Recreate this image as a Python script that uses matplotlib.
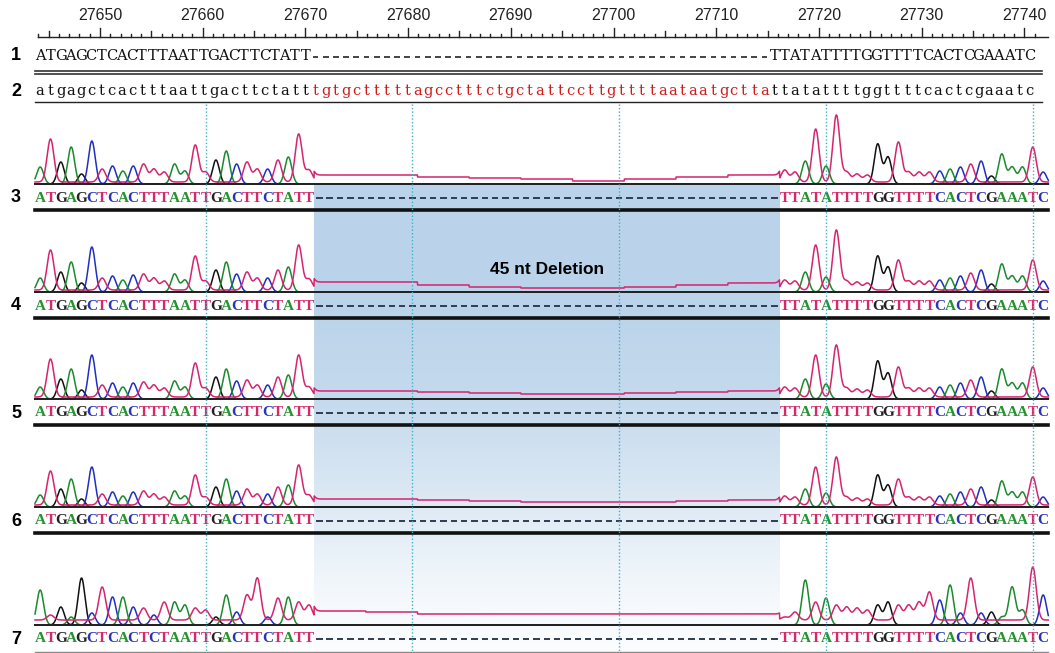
import numpy as np
import matplotlib.pyplot as plt

# ruler (genome coordinates)
ruler_first = 27644
ruler_last = 27741
ruler_labels = [27650, 27660, 27670, 27680, 27690, 27700, 27710, 27720, 27730, 27740]

# reference sequence, rows 1 and 2
ref_left = "ATGAGCTCACTTTAATTGACTTCTATT"
ref_gap = "tgtgctttttagcctttctgctattccttgttttaataatgctta"
ref_right = "TTATATTTTGGTTTTCACTCGAAATC"

# sequenced samples, rows 3-7
row_names = ["3", "4", "5", "6", "7"]
row_left = [ref_left, ref_left, ref_left, ref_left, "ATGAGCTCACTCTAATTGACTTCTATT"]
row_right = [ref_right] * 5

# peak height (px) of the called base at every position
peaks_left = [
    [17, 43, 22, 37, 10, 43, 13, 18, 13, 18, 18, 13, 10, 20, 13, 37, 10, 24, 33, 20, 20, 13, 15, 22, 27, 48, 12],
    [14, 40, 20, 30, 9, 45, 12, 16, 12, 17, 16, 12, 9, 18, 12, 34, 9, 22, 30, 18, 18, 12, 14, 20, 25, 45, 11],
    [12, 38, 20, 30, 9, 44, 12, 16, 12, 16, 15, 12, 9, 18, 12, 34, 9, 22, 30, 18, 17, 12, 14, 20, 24, 42, 10],
    [12, 34, 18, 28, 8, 40, 11, 15, 11, 15, 14, 11, 8, 16, 11, 30, 8, 20, 28, 16, 16, 11, 13, 18, 22, 40, 10],
    [35, 5, 18, 8, 47, 12, 33, 28, 28, 18, 12, 10, 18, 23, 20, 12, 10, 8, 30, 13, 25, 42, 8, 22, 28, 18, 15],
]
peaks_right = [
    [12, 10, 23, 53, 18, 67, 10, 8, 7, 40, 27, 40, 10, 10, 10, 13, 15, 17, 18, 23, 8, 30, 17, 17, 35, 12],
    [10, 9, 20, 45, 15, 60, 9, 8, 7, 36, 25, 30, 9, 9, 9, 12, 14, 16, 17, 22, 8, 28, 16, 16, 30, 11],
    [10, 9, 20, 42, 15, 52, 9, 8, 7, 38, 26, 30, 9, 9, 9, 12, 14, 16, 17, 22, 8, 30, 16, 16, 30, 11],
    [9, 8, 18, 38, 14, 48, 8, 7, 6, 32, 22, 26, 8, 8, 8, 11, 13, 15, 16, 20, 7, 26, 15, 15, 28, 10],
    [3, 8, 45, 18, 27, 15, 13, 12, 10, 20, 23, 15, 15, 18, 28, 25, 40, 12, 42, 12, 13, 8, 38, 15, 53, 30],
]
# height (px) of the flat T trace across the deletion, 9 steps of 5 bases
gap_level = [
    [9, 9, 7, 6, 5, 3, 5, 7, 9],
    [10, 10, 7, 5, 4, 4, 5, 7, 9],
    [8, 8, 7, 6, 5, 5, 6, 7, 8],
    [8, 8, 7, 6, 5, 5, 5, 6, 7],
    [14, 13, 11, 11, 11, 11, 11, 11, 11],
]
t_floor = [2, 2, 2, 2, 5]

trace_colors = {"A": "#1b8a2e", "C": "#1f2fbf", "G": "#111111", "T": "#d6246e"}
base_colors = {"A": "#25932f", "C": "#2a35b5", "G": "#222222", "T": "#d42a6a"}

W, H = 1055, 653
X0 = 35.0
PITCH = 10.34        # chromatogram rows
TXT_PITCH = 10.2     # rows 1 and 2
RULER_PITCH = 10.27
row_y = [198, 306, 413, 521, 639]

fig = plt.figure(figsize=(W / 100, H / 100), dpi=100)
ax = fig.add_axes([0, 0, 1, 1])
ax.set_xlim(0, W)
ax.set_ylim(H, 0)
ax.axis("off")

n_left, n_gap, n_right = len(ref_left), len(ref_gap), len(ref_right)
n_all = n_left + n_gap + n_right
gap_x0 = X0 + n_left * PITCH
gap_x1 = X0 + (n_left + n_gap) * PITCH
x_end = X0 + n_all * PITCH

# shaded deletion box, fading downwards
grad_y = [183, 300, 400, 500, 600, 653]
grad_a = [1.0, 1.0, 0.85, 0.5, 0.15, 0.05]
yy = np.arange(183, 654)
alpha = np.interp(yy, grad_y, grad_a)
img = np.zeros((len(yy), 1, 4))
img[:, 0, :3] = [0.73, 0.83, 0.92]
img[:, 0, 3] = alpha
ax.imshow(img, extent=(gap_x0, gap_x1, 653, 183), aspect="auto", zorder=0, interpolation="bilinear")
ax.text((gap_x0 + gap_x1) / 2, 270, "45 nt Deletion", ha="center", va="center",
        fontsize=12.5, fontweight="bold", family="Liberation Sans", zorder=6)

# ruler
ruler_y = 37
ax.plot([38, 1048], [ruler_y, ruler_y], color="#222222", lw=1.0)
for p in range(ruler_first, ruler_last + 1):
    x = 100 + (p - 27650) * RULER_PITCH
    h = 9 if p % 10 == 0 else (6 if p % 5 == 0 else 3)
    ax.plot([x, x], [ruler_y, ruler_y - h], color="#222222", lw=1.0)
for p in ruler_labels:
    x = 100 + (p - 27650) * RULER_PITCH
    ax.text(x, 16, str(p), ha="center", va="center", fontsize=11.5, family="Liberation Sans", color="#222222")

# row 1: reference with gap
row1 = ref_left + "-" * n_gap + ref_right
for i, ch in enumerate(row1):
    x = X0 + (i + 0.5) * TXT_PITCH
    if ch == "-":
        ax.plot([x - 2.8, x + 2.8], [57, 57], color="#111111", lw=1.1, solid_capstyle="butt")
    else:
        ax.text(x, 56, ch, ha="center", va="center", fontsize=10.5,
                family="DejaVu Serif", color="#111111")
ax.plot([35, 1042], [70.5, 70.5], color="#333333", lw=1.2)
ax.plot([35, 1042], [74, 74], color="#333333", lw=1.2)

# row 2: full reference, deleted part in red
row2 = ref_left.lower() + ref_gap + ref_right.lower()
for i, ch in enumerate(row2):
    col = "#d11a1a" if n_left <= i < n_left + n_gap else "#111111"
    ax.text(X0 + (i + 0.5) * TXT_PITCH, 91, ch, ha="center", va="center", fontsize=10.5,
            family="DejaVu Serif", color=col)
ax.plot([35, 1042], [102, 102], color="#222222", lw=1.0)

for y, name in zip([56, 92], ["1", "2"]):
    ax.text(16, y, name, ha="center", va="center", fontsize=13, fontweight="bold", family="Liberation Sans")

# guide lines every 20 bases
for i in range(16, n_all, 20):
    x = X0 + (i + 0.5) * PITCH
    ax.plot([x, x], [104, H], color="#3fb1c9", lw=1.0, ls=(0, (1, 1.5)), zorder=5)

# chromatogram rows
xs = np.linspace(X0, x_end, 4000)
sig = 3.4
for r in range(5):
    yb = row_y[r]
    base = yb - 14
    seq = row_left[r] + "-" * n_gap + row_right[r]
    heights = peaks_left[r] + [0] * n_gap + peaks_right[r]
    # T floor: constant outside, stepped plateau inside deletion
    floor = np.full_like(xs, t_floor[r], dtype=float)
    in_gap = (xs >= gap_x0) & (xs < gap_x1)
    step = ((xs[in_gap] - gap_x0) / (gap_x1 - gap_x0) * len(gap_level[r])).astype(int)
    step = np.clip(step, 0, len(gap_level[r]) - 1)
    floor[in_gap] = np.array(gap_level[r])[step]
    for b in "GCAT":
        y = np.zeros_like(xs)
        for i, ch in enumerate(seq):
            if ch == b:
                cx = X0 + (i + 0.5) * PITCH
                y += heights[i] * np.exp(-0.5 * ((xs - cx) / sig) ** 2)
        if b == "T":
            y = y + floor
        ax.plot(xs, base - y, color=trace_colors[b], lw=1.1, zorder=3.6 if b == "T" else 3)
    ax.plot([X0, x_end], [base, base], color="#222222", lw=1.4, zorder=3.5)
    for i, ch in enumerate(seq):
        x = X0 + (i + 0.5) * PITCH
        if ch == "-":
            ax.plot([x - 3.2, x + 3.2], [yb, yb], color="#2e3e50", lw=1.4, zorder=4,
                    solid_capstyle="butt")
        else:
            ax.text(x, yb, ch, ha="center", va="center", fontsize=11, fontweight="bold",
                    family="Liberation Serif", color=base_colors[ch], zorder=4)
    if r < 4:
        ax.plot([X0, x_end], [yb + 12, yb + 12], color="#111111", lw=2.6, zorder=2)
    ax.text(16, yb, row_names[r], ha="center", va="center", fontsize=13, fontweight="bold",
            family="Liberation Sans")

ax.plot([X0, x_end], [652, 652], color="#888888", lw=1.0)

fig.savefig("out.png", dpi=100)
